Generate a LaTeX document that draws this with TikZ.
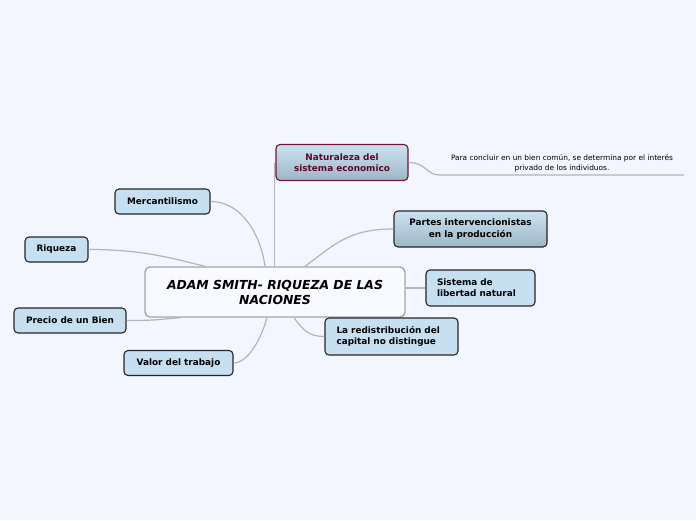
\documentclass[tikz,border=0pt]{standalone}
\usepackage{fontspec}
\setmainfont{DejaVu Sans}
\usetikzlibrary{calc}

\definecolor{bgblue}{HTML}{F3F6FE}
\definecolor{leafblue}{HTML}{C6E0F1}
\definecolor{shadetop}{HTML}{CBE2F0}
\definecolor{shadebot}{HTML}{9DB6C7}
\definecolor{wine}{HTML}{6B1834}
\definecolor{winetext}{HTML}{5A0A26}
\definecolor{linkgray}{HTML}{B4B4BC}

\tikzset{
  leaf/.style={draw=black!85, line width=1.1pt, rounded corners=4pt, fill=leafblue,
    font=\fontsize{8.9}{11.2}\selectfont\bfseries, inner sep=0pt, minimum height=25pt},
  shadedleaf/.style={leaf, top color=shadetop, bottom color=shadebot, minimum height=36pt},
  link/.style={draw=linkgray, line width=1.2pt}
}

\begin{document}
\begin{tikzpicture}[x=1pt, y=-1pt]
\useasboundingbox[fill=bgblue] (0,0) rectangle (696,520);
% central topic
\node[draw=black!35, line width=1.4pt, rounded corners=5pt, fill=bgblue!50!white,
  minimum width=260pt, minimum height=50pt, align=center,
  font=\fontsize{12.4}{15}\selectfont\bfseries\itshape] (center) at (275,292)
  {ADAM SMITH- RIQUEZA DE LAS\\NACIONES};
% leaves on the left
\foreach \nm/\px/\py/\w/\txt in {merc/162.5/201.5/95/Mercantilismo,
    riq/56.5/249.5/63/Riqueza, precio/70/320.5/112/Precio de un Bien,
    valor/178.5/363/109/Valor del trabajo}
  \node[leaf, minimum width=\w pt] (\nm) at (\px,\py) {\txt};
% leaves on the right
\node[shadedleaf, draw=wine, text=winetext, minimum width=132pt, align=center]
  (nat) at (342,162.5) {Naturaleza del\\sistema economico};
\node[shadedleaf, minimum width=153pt, align=center]
  (partes) at (470.5,229) {Partes intervencionistas\\en la producción};
\node[leaf, minimum width=109pt, minimum height=36pt, text width=87pt, align=left]
  (sist) at (480.5,288) {Sistema de\\libertad natural};
\node[leaf, minimum width=133pt, minimum height=37pt, text width=110pt, align=left]
  (redis) at (391.5,336.5) {La redistribución del\\capital no distingue};
% note
\node[anchor=south, minimum width=244pt, inner xsep=0pt, inner ysep=2.5pt, align=center,
  font=\fontsize{7.4}{10}\selectfont] (note) at (562,175)
  {Para concluir en un bien común, se determina por el interés\\privado de los individuos.};
% connectors
\begin{scope}[on background layer/.try]
\draw[link] ($(nat.west)+(-0.6,0)$) -- ($(nat.west |- center.north)+(-0.6,0)$);
\draw[link] (merc.east) .. controls +(32,0) and +(-4,-30) .. ($(center.north)+(-10,0)$);
\draw[link] (riq.east) .. controls +(50,0) and +(-40,-10) .. ($(center.north)+(-70,0)$);
\draw[link] (precio.east) .. controls +(30,0) and +(-25,2) .. ($(center.south)+(-95,0)$);
\draw[link] (valor.east) .. controls +(14,0) and +(-6,22) .. ($(center.south)+(-8,0)$);
\draw[link] (partes.west) .. controls +(-45,0) and +(30,-22) .. ($(center.north)+(30,0)$);
\draw[link] (center.east |- sist.west) -- (sist.west);
\draw[link] ($(center.south)+(19,0)$) .. controls +(10,14) and +(-14,0) .. (redis.west);
\draw[link] (nat.east) .. controls +(18,0) and +(-14,0) .. (note.south west) -- (note.south east);
\end{scope}
\end{tikzpicture}
\end{document}
